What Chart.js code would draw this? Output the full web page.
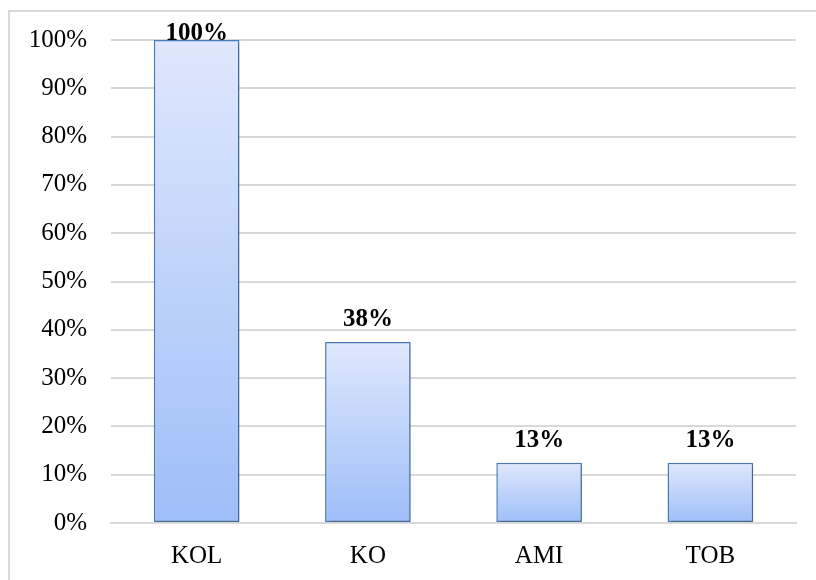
<!DOCTYPE html>
<html>
<head>
<meta charset="utf-8">
<script src="https://cdn.jsdelivr.net/npm/chart.js@4"></script>
<style>
	body { margin: 0; background: #fff; }
	#marco { position: absolute; left: 0; top: 0; width: 816px; height: 580px; overflow: hidden; }
	#borde { position: absolute; left: 8px; top: 10px; width: 830px; height: 600px; border: 2px solid #d9d9d9; box-sizing: border-box; }
	#grafica { position: absolute; left: 0; top: 0; }
</style>
</head>
<body>
<div id="marco">
	<div id="borde"></div>
	<canvas id="grafica" width="816" height="580"></canvas>
</div>
<script>
var categorias = ["KOL", "KO", "AMI", "TOB"];
var valores = [100, 37.5, 12.5, 12.5];
var etiquetas = ["100%", "38%", "13%", "13%"];

var fuente = "'Liberation Serif', 'Times New Roman', serif";

// degradado de cada barra: claro arriba, azul abajo
function colorBarra(ctx)
{
	var chart = ctx.chart;
	if (!chart.chartArea || ctx.type !== 'data') return '#c5d7fa';
	var y = chart.scales.y;
	var arriba = y.getPixelForValue(ctx.raw);
	var abajo = y.getPixelForValue(0);
	var g = chart.ctx.createLinearGradient(0, arriba, 0, abajo);
	g.addColorStop(0, '#dfe8fc');
	g.addColorStop(1, '#9ebef8');
	return g;
}

var sombra = {
	id: 'sombra',
	beforeDatasetsDraw: function (chart) {
		var c = chart.ctx;
		c.save();
		c.shadowColor = 'rgba(0,0,0,0.22)';
		c.shadowBlur = 4;
		c.shadowOffsetX = 2;
		c.shadowOffsetY = 2;
	},
	afterDatasetsDraw: function (chart) {
		chart.ctx.restore();
	}
};

var rotulos = {
	id: 'rotulos',
	afterDatasetsDraw: function (chart) {
		var c = chart.ctx;
		var meta = chart.getDatasetMeta(0);
		c.save();
		c.font = "bold 25px " + fuente;
		c.fillStyle = '#000';
		c.textAlign = 'center';
		c.textBaseline = 'alphabetic';
		meta.data.forEach(function (barra, i) {
			var y = Math.max(barra.y - 16, chart.chartArea.top);
			c.fillText(etiquetas[i], barra.x, y);
		});
		c.restore();
	}
};

function dibuja()
{
	new Chart(document.getElementById('grafica').getContext('2d'), {
		type: 'bar',
		data: {
			labels: categorias,
			datasets: [{
				data: valores,
				backgroundColor: colorBarra,
				borderColor: '#4a7ebb',
				borderWidth: 1.5,
				borderSkipped: false,
				categoryPercentage: 1,
				barPercentage: 0.5
			}]
		},
		options: {
			responsive: false,
			animation: false,
			layout: { padding: { top: 40, right: 20, left: 0, bottom: 0 } },
			plugins: { legend: { display: false }, tooltip: { enabled: false } },
			scales: {
				x: {
					grid: { display: false, drawTicks: false },
					border: { display: true, color: '#d9d9d9', width: 2 },
					ticks: { color: '#000', font: { family: fuente, size: 25 }, padding: 18 },
					afterFit: function (s) { s.height = 57; }
				},
				y: {
					min: 0,
					max: 100,
					grid: { color: '#d9d9d9', lineWidth: 2, drawTicks: false },
					border: { display: false },
					ticks: {
						stepSize: 10,
						color: '#000',
						padding: 24,
						font: { family: fuente, size: 25 },
						callback: function (v) { return v + '%'; }
					},
					afterFit: function (s) { s.width = 111; }
				}
			}
		},
		plugins: [sombra, rotulos]
	});
}

if (document.fonts && document.fonts.load) {
	Promise.all([
		document.fonts.load("25px 'Liberation Serif'"),
		document.fonts.load("bold 25px 'Liberation Serif'")
	]).then(dibuja, dibuja);
} else {
	dibuja();
}
</script>
</body>
</html>
